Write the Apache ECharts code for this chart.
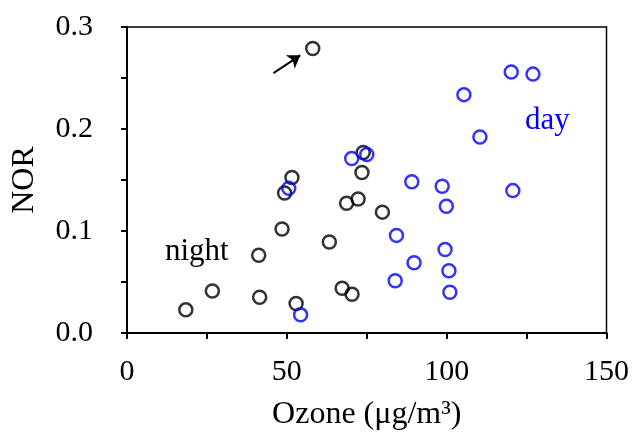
<!DOCTYPE html>
<html>
<head>
<meta charset="utf-8">
<script src="https://cdn.jsdelivr.net/npm/echarts@6/dist/echarts.min.js"></script>
<style>html,body{margin:0;padding:0;background:#fff}#c{width:632px;height:436px}</style>
</head>
<body>
<div id="c"></div>
<script>
// Night (black) points
const nightX = [58.1, 18.4, 26.7, 41.2, 41.5, 48.5, 49.3, 51.6, 52.9, 63.3, 67.3, 70.4, 68.7, 72.3, 73.5, 73.9, 79.9];
const nightY = [0.279, 0.0227, 0.0412, 0.0763, 0.035, 0.102, 0.1373, 0.1525, 0.0289, 0.0893, 0.0438, 0.038, 0.1272, 0.1314, 0.1574, 0.1769, 0.1185];
// Day (blue) points
const dayX = [50.6, 54.3, 70.3, 75.0, 84.3, 89.8, 83.9, 99.5, 100.7, 101.0, 89.1, 98.6, 99.9, 120.7, 120.2, 127.0, 105.4, 110.4];
const dayY = [0.1418, 0.0178, 0.1711, 0.175, 0.0957, 0.0688, 0.0513, 0.0818, 0.061, 0.0399, 0.1483, 0.1438, 0.1243, 0.1396, 0.2558, 0.2538, 0.2337, 0.1921];
// Arrow pointing at the outlier (data coords)
const arrowFrom = [45.8, 0.2548];
const arrowTo = [54.2, 0.2722];
const xTitle = 'Ozone (μg/m³)';
const yTitle = 'NOR';

const FONT = 'Liberation Serif';
const chart = echarts.init(document.getElementById('c'), null, {renderer: 'canvas'});
const pts = (xs, ys) => xs.map((x, i) => [x, ys[i]]);
const ring = c => ({color: 'rgba(0,0,0,0)', borderColor: c, borderWidth: 2.5});
const BLUE = '#0000ff';

chart.setOption({
  animation: false,
  backgroundColor: '#fff',
  grid: {left: 127, top: 27, right: 24, bottom: 101, show: true, borderColor: '#000', borderWidth: 1.5, backgroundColor: 'transparent'},
  xAxis: {
    type: 'value', min: 0, max: 150, interval: 25,
    name: xTitle, nameLocation: 'middle', nameGap: 66,
    nameTextStyle: {fontFamily: FONT, fontSize: 32, color: '#000'},
    axisLine: {show: true, onZero: false, lineStyle: {color: '#000', width: 2}},
    axisTick: {show: true, length: 6, lineStyle: {color: '#000', width: 2}},
    axisLabel: {fontFamily: FONT, fontSize: 30, color: '#000', margin: 24,
      formatter: v => (v % 50 === 0 ? String(v) : '')},
    splitLine: {show: false}
  },
  yAxis: {
    type: 'value', min: 0, max: 0.3, interval: 0.05,
    name: yTitle, nameLocation: 'middle', nameGap: 86,
    nameTextStyle: {fontFamily: FONT, fontSize: 32, color: '#000'},
    axisLine: {show: true, onZero: false, lineStyle: {color: '#000', width: 2}},
    axisTick: {show: true, length: 6, lineStyle: {color: '#000', width: 2}},
    axisLabel: {fontFamily: FONT, fontSize: 30, color: '#000', margin: 34,
      formatter: v => (Math.round(v * 100) % 10 === 0 ? v.toFixed(1) : '')},
    splitLine: {show: false}
  },
  series: [
    {
      name: 'night', type: 'scatter', symbol: 'circle', symbolSize: 13,
      itemStyle: ring('#000'), data: pts(nightX, nightY), z: 2,
      markLine: {
        silent: true, symbol: ['none', 'arrow'], symbolSize: 12,
        label: {show: false},
        lineStyle: {color: '#000', width: 2, type: 'solid'},
        emphasis: {disabled: true},
        data: [[{coord: arrowFrom}, {coord: arrowTo}]]
      }
    },
    {
      name: 'day', type: 'scatter', symbol: 'circle', symbolSize: 13,
      itemStyle: ring(BLUE), data: pts(dayX, dayY), z: 3
    }
  ],
  graphic: [
    {type: 'text', left: 165, top: 236, style: {text: 'night', fontFamily: FONT, fontSize: 31, fill: '#000'}},
    {type: 'text', left: 525, top: 105, style: {text: 'day', fontFamily: FONT, fontSize: 31, fill: BLUE}}
  ]
});
</script>
</body>
</html>
